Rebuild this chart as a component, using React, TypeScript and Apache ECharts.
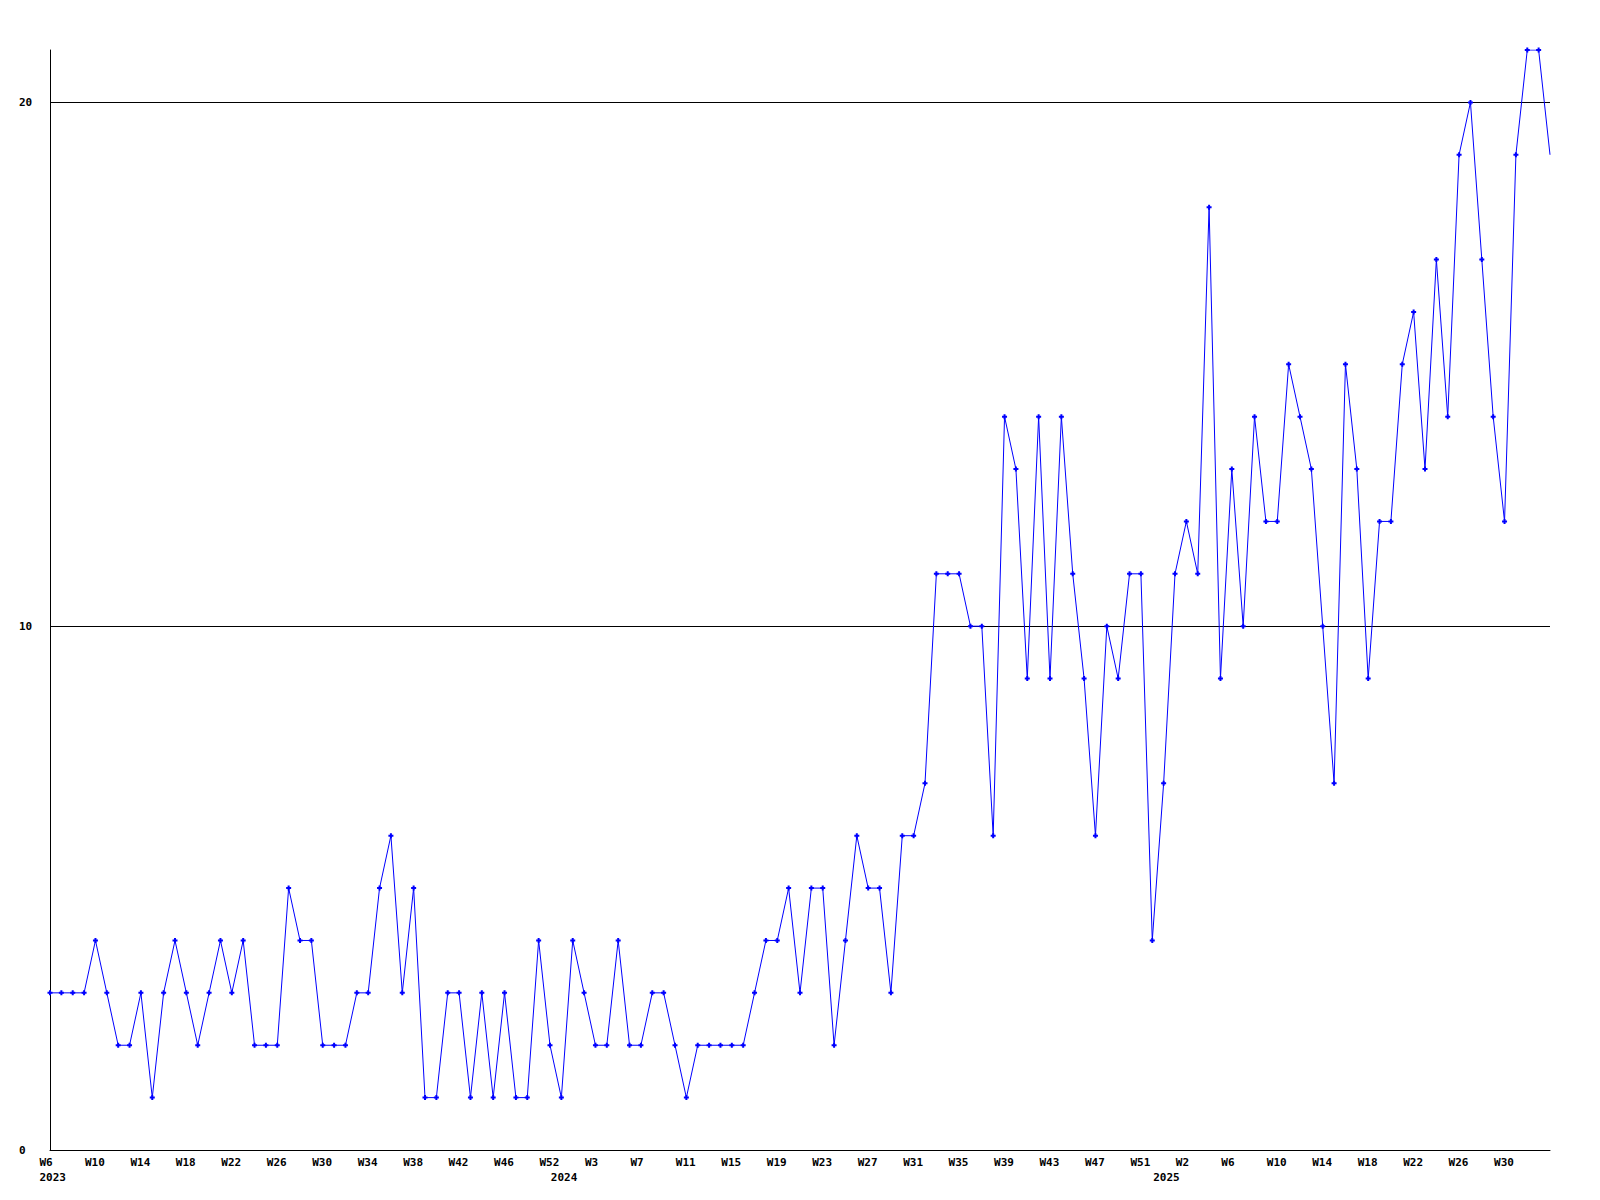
import React, { useEffect, useRef } from "react";
import * as echarts from "echarts";

// Weekly values, split by the year label they fall under
const values2023 = [3, 3, 3, 3, 4, 3, 2, 2, 3, 1, 3, 4, 3, 2, 3, 4, 3, 4, 2, 2, 2, 5, 4, 4, 2, 2, 2, 3, 3, 5, 6, 3, 5, 1, 1, 3, 3, 1, 3, 1, 3, 1, 1, 4, 2];
const values2024 = [1, 4, 3, 2, 2, 4, 2, 2, 3, 3, 2, 1, 2, 2, 2, 2, 2, 3, 4, 4, 5, 3, 5, 5, 2, 4, 6, 5, 5, 3, 6, 6, 7, 11, 11, 11, 10, 10, 6, 14, 13, 9, 14, 9, 14, 11, 9, 6, 10, 9, 11, 11, 4];
const values2025 = [7, 11, 12, 11, 18, 9, 13, 10, 14, 12, 12, 15, 14, 13, 10, 7, 15, 13, 9, 12, 12, 15, 16, 13, 17, 14, 19, 20, 17, 14, 12, 19, 21, 21, 19];

const years = ["2023", "2024", "2025"];
const yearValues = [values2023, values2024, values2025];

// Week tick labels, one every 4 points
const weekTicks = ["W6", "W10", "W14", "W18", "W22", "W26", "W30", "W34", "W38", "W42", "W46", "W52", "W3", "W7", "W11", "W15", "W19", "W23", "W27", "W31", "W35", "W39", "W43", "W47", "W51", "W2", "W6", "W10", "W14", "W18", "W22", "W26", "W30"];
const tickEvery = 4;

const yTickValues = [0, 10, 20];
const gridLineValues = [10, 20];

export default function App() {
  const ref = useRef<HTMLDivElement>(null);

  useEffect(() => {
    if (!ref.current) return;
    const chart = echarts.init(ref.current, null, { renderer: "svg" });

    const values: number[] = [];
    const categories: string[] = [];
    const yearStartIndex: Record<number, string> = {};
    yearValues.forEach((arr, yi) => {
      yearStartIndex[values.length] = years[yi];
      arr.forEach((v, i) => {
        categories.push(`${years[yi]}-${i}`);
        values.push(v);
      });
    });

    // the last (current, incomplete) point is drawn without a marker
    const seriesData = values.map((v, i) =>
      i === values.length - 1 ? { value: v, symbol: "none" } : v
    );

    const font = {
      fontFamily: "'DejaVu Sans Mono', monospace",
      fontWeight: "bold" as const,
      fontSize: 11,
      color: "#000",
    };

    chart.setOption({
      animation: false,
      backgroundColor: "#fff",
      grid: { left: 50, right: 50, top: 50, bottom: 50, containLabel: false },
      xAxis: [
        {
          type: "category",
          data: categories,
          boundaryGap: false,
          position: "bottom",
          axisLine: { show: true, lineStyle: { color: "#000", width: 1 } },
          axisTick: { show: false },
          splitLine: { show: false },
          axisLabel: {
            interval: 0,
            margin: 5,
            formatter: (_v: string, idx: number) =>
              idx % tickEvery === 0 && weekTicks[idx / tickEvery] !== undefined
                ? `{a|${weekTicks[idx / tickEvery]}}`
                : "",
            rich: { a: { ...font, width: 21, align: "left", lineHeight: 14 } },
          },
        },
        {
          type: "category",
          data: categories,
          boundaryGap: false,
          position: "bottom",
          axisLine: { show: false },
          axisTick: { show: false },
          splitLine: { show: false },
          axisLabel: {
            interval: 0,
            margin: 20,
            formatter: (_v: string, idx: number) =>
              yearStartIndex[idx] !== undefined ? `{a|${yearStartIndex[idx]}}` : "",
            rich: { a: { ...font, width: 21, align: "left", lineHeight: 14 } },
          },
        },
      ],
      yAxis: {
        type: "value",
        min: 0,
        max: 21,
        interval: 10,
        axisLine: { show: true, lineStyle: { color: "#000", width: 1 } },
        axisTick: { show: false },
        splitLine: { show: false },
        axisLabel: {
          ...font,
          align: "left",
          margin: 31,
          showMaxLabel: false,
          formatter: (v: number) => (yTickValues.includes(v) ? String(v) : ""),
        },
      },
      series: [
        {
          type: "line",
          xAxisIndex: 0,
          data: seriesData,
          color: "#0000ff",
          lineStyle: { color: "#0000ff", width: 1 },
          itemStyle: { color: "#0000ff", borderWidth: 0 },
          symbol: "path://M1.5,0H3.5V1.5H5V3.5H3.5V5H1.5V3.5H0V1.5H1.5Z",
          symbolSize: 5,
          showSymbol: true,
          showAllSymbol: true,
          emphasis: { disabled: true },
          z: 3,
          markLine: {
            silent: true,
            symbol: ["none", "none"],
            label: { show: false },
            emphasis: { disabled: true },
            lineStyle: { color: "#000", width: 1, type: "solid" },
            data: gridLineValues.map((v) => ({ yAxis: v })),
            z: 1,
          },
        },
      ],
    });

    return () => chart.dispose();
  }, []);

  return (
    <div
      ref={ref}
      style={{ position: "absolute", left: 0, top: 0, width: 1600, height: 1200, background: "#fff" }}
    />
  );
}
